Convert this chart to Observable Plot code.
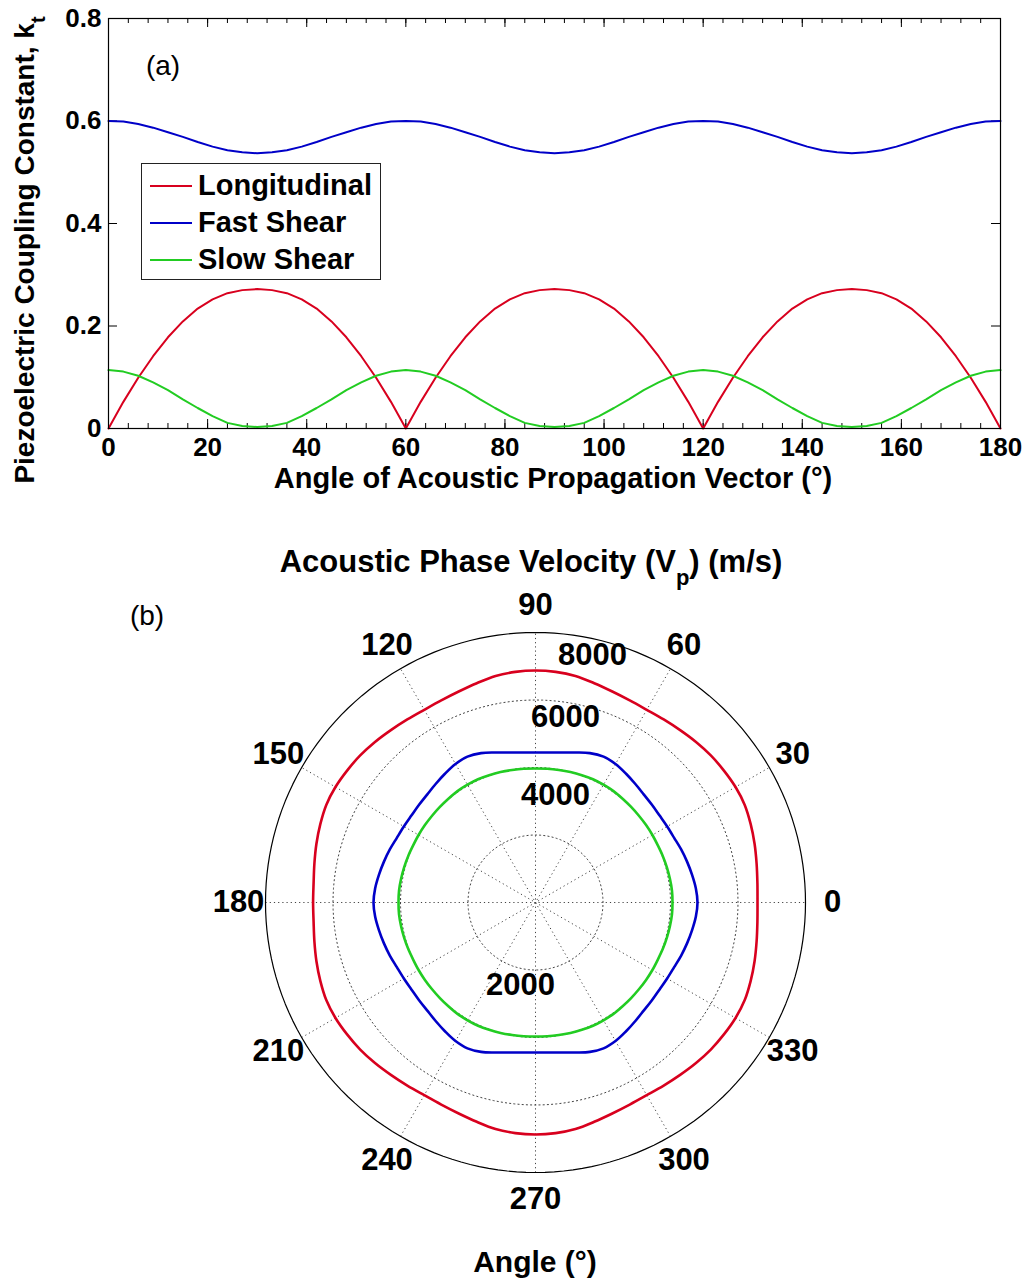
<!DOCTYPE html>
<html><head><meta charset="utf-8">
<script src="https://cdn.jsdelivr.net/npm/d3@7"></script>
<script src="https://cdn.jsdelivr.net/npm/@observablehq/plot@0.6"></script>
<style>
body{margin:0;background:#fff;}
#wrap{position:relative;width:1032px;height:1282px;background:#fff;font-family:"Liberation Sans",Arial,Helvetica,sans-serif;}
#a{position:absolute;left:0;top:0;}
#b{position:absolute;left:0;top:500px;}
#legend{position:absolute;left:141px;top:163px;width:238px;height:115px;border:1.5px solid #222;background:#fff;}
.row{position:absolute;left:0;height:37px;display:flex;align-items:center;font-weight:bold;font-size:29px;color:#000;white-space:nowrap;}
.sw{display:inline-block;width:42px;height:2px;margin-left:8px;margin-right:6px;}
</style></head>
<body><div id="wrap"><div id="a"></div><div id="b"></div><div id="legend"></div></div>
<script>
const FONT = '"Liberation Sans", Arial, Helvetica, sans-serif';

// ---------- Panel (a) data ----------
const seriesNames = ["Longitudinal", "Fast Shear", "Slow Shear"];
const seriesColors = ["#d8001e", "#0000c8", "#22cc22"];
const angleA = d3.range(0, 181, 3); // 0..180 deg, every 3 deg
const longitudinal = [
  0, 0.052, 0.099, 0.141, 0.178, 0.209, 0.234, 0.252, 0.264, 0.270, 0.272, 0.270, 0.264, 0.252, 0.234, 0.209, 0.178, 0.141, 0.099, 0.052,
  0, 0.052, 0.099, 0.141, 0.178, 0.209, 0.234, 0.252, 0.264, 0.270, 0.272, 0.270, 0.264, 0.252, 0.234, 0.209, 0.178, 0.141, 0.099, 0.052,
  0, 0.052, 0.099, 0.141, 0.178, 0.209, 0.234, 0.252, 0.264, 0.270, 0.272, 0.270, 0.264, 0.252, 0.234, 0.209, 0.178, 0.141, 0.099, 0.052, 0
];
const fastShear = [
  0.600, 0.599, 0.594, 0.587, 0.578, 0.569, 0.559, 0.550, 0.543, 0.539, 0.537, 0.539, 0.543, 0.550, 0.559, 0.569, 0.578, 0.587, 0.594, 0.599,
  0.600, 0.599, 0.594, 0.587, 0.578, 0.569, 0.559, 0.550, 0.543, 0.539, 0.537, 0.539, 0.543, 0.550, 0.559, 0.569, 0.578, 0.587, 0.594, 0.599,
  0.600, 0.599, 0.594, 0.587, 0.578, 0.569, 0.559, 0.550, 0.543, 0.539, 0.537, 0.539, 0.543, 0.550, 0.559, 0.569, 0.578, 0.587, 0.594, 0.599, 0.600
];
const slowShear = [
  0.114, 0.111, 0.103, 0.090, 0.075, 0.057, 0.040, 0.024, 0.011, 0.005, 0.003, 0.005, 0.011, 0.024, 0.040, 0.057, 0.075, 0.090, 0.103, 0.111,
  0.114, 0.111, 0.103, 0.090, 0.075, 0.057, 0.040, 0.024, 0.011, 0.005, 0.003, 0.005, 0.011, 0.024, 0.040, 0.057, 0.075, 0.090, 0.103, 0.111,
  0.114, 0.111, 0.103, 0.090, 0.075, 0.057, 0.040, 0.024, 0.011, 0.005, 0.003, 0.005, 0.011, 0.024, 0.040, 0.057, 0.075, 0.090, 0.103, 0.111, 0.114
];
const xTicksA = [0, 20, 40, 60, 80, 100, 120, 140, 160, 180];
const xMinorA = d3.range(0, 181, 4);
const yTicksA = [0, 0.2, 0.4, 0.6, 0.8];

// ---------- Panel (b) data ----------
const polarAngles = d3.range(0, 360, 5); // 0..355 deg
const vLong = [
  6578, 6600, 6652, 6720, 6785, 6840, 6844, 6815, 6780, 6726, 6667, 6622, 6593, 6607, 6652, 6726, 6815, 6859, 6874,
  6859, 6815, 6726, 6652, 6607, 6593, 6622, 6667, 6726, 6780, 6815, 6844, 6840, 6785, 6720, 6652, 6600, 6590,
  6600, 6652, 6720, 6785, 6840, 6844, 6815, 6780, 6726, 6667, 6622, 6593, 6607, 6652, 6726, 6815, 6859, 6874,
  6859, 6815, 6726, 6652, 6607, 6593, 6622, 6667, 6726, 6780, 6815, 6844, 6840, 6785, 6720, 6652, 6600
];
const vFast = [
  4800, 4770, 4711, 4652, 4593, 4533, 4504, 4489, 4504, 4533, 4593, 4667, 4741, 4770, 4711, 4601, 4513, 4462, 4444,
  4462, 4513, 4601, 4711, 4770, 4741, 4667, 4593, 4533, 4504, 4489, 4504, 4533, 4593, 4652, 4711, 4770, 4800,
  4770, 4711, 4652, 4593, 4533, 4504, 4489, 4504, 4533, 4593, 4667, 4741, 4770, 4711, 4601, 4513, 4462, 4444,
  4462, 4513, 4601, 4711, 4770, 4741, 4667, 4593, 4533, 4504, 4489, 4504, 4533, 4593, 4652, 4711, 4770
];
const vSlow = [
  4059, 4059, 4044, 4030, 4015, 4000, 4000, 4000, 4000, 4006, 4015, 4030, 4030, 4030, 4015, 4000, 3985, 3976, 3970,
  3976, 3985, 4000, 4015, 4030, 4030, 4030, 4015, 4006, 4000, 4000, 4000, 4000, 4015, 4030, 4044, 4059, 4059,
  4059, 4044, 4030, 4015, 4000, 4000, 4000, 4000, 4006, 4015, 4030, 4030, 4030, 4015, 4000, 3985, 3976, 3970,
  3976, 3985, 4000, 4015, 4030, 4030, 4030, 4015, 4006, 4000, 4000, 4000, 4000, 4015, 4030, 4044, 4059
];
const ringValues = [2000, 4000, 6000, 8000];
const rMax = 8000;
const angleTicksB = [0, 30, 60, 90, 120, 150, 180, 210, 240, 270, 300, 330];
const angleLabelRadius = 8800;
const radialLabelText = ["8000", "6000", "4000", "2000"];
const radialLabelR = [7511, 5553, 3225, 2499];
const radialLabelAngle = [77, 80.8, 79.4, 259.8];

const rad = d => d * Math.PI / 180;

// ---------- Build panel (a) ----------
const rowsA = [];
angleA.forEach((a, i) => {
  rowsA.push({a, k: longitudinal[i], s: seriesNames[0]});
  rowsA.push({a, k: fastShear[i], s: seriesNames[1]});
  rowsA.push({a, k: slowShear[i], s: seriesNames[2]});
});
const HA = 500, mt = 18, mb = 72, ml = 108, mr = 32;
const fh = HA - mt - mb, fw = 1032 - ml - mr;
const majorLen = 9, minorLen = 5;
const plotA = Plot.plot({
  width: 1032, height: HA, marginLeft: ml, marginRight: mr, marginTop: mt, marginBottom: mb,
  x: {domain: [0, 180]},
  y: {domain: [0, 0.8]},
  color: {domain: seriesNames, range: seriesColors},
  style: {fontFamily: FONT, fontSize: "26px", fontWeight: "bold", color: "#000", background: "#fff", overflow: "visible"},
  marks: [
    Plot.axisX({ticks: xTicksA, tickSize: 0, tickPadding: 9, tickFormat: d => String(d), label: null}),
    Plot.axisY({ticks: yTicksA, tickSize: 0, tickPadding: 7, tickFormat: d => String(d), label: null}),
    // inward tick marks on all four sides
    Plot.tickX(xMinorA, {x: d => d, insetTop: fh - minorLen, stroke: "#000", strokeWidth: 1}),
    Plot.tickX(xMinorA, {x: d => d, insetBottom: fh - minorLen, stroke: "#000", strokeWidth: 1}),
    Plot.tickX(xTicksA, {x: d => d, insetTop: fh - majorLen, stroke: "#000", strokeWidth: 1}),
    Plot.tickX(xTicksA, {x: d => d, insetBottom: fh - majorLen, stroke: "#000", strokeWidth: 1}),
    Plot.tickY(yTicksA, {y: d => d, insetRight: fw - majorLen, stroke: "#000", strokeWidth: 1}),
    Plot.tickY(yTicksA, {y: d => d, insetLeft: fw - majorLen, stroke: "#000", strokeWidth: 1}),
    Plot.line(rowsA, {x: "a", y: "k", z: "s", stroke: "s", strokeWidth: 2}),
    Plot.frame({stroke: "#000", strokeWidth: 1.2})
  ]
});
document.getElementById("a").appendChild(plotA);

// ---------- Build panel (b) ----------
const rowsB = [];
polarAngles.forEach((t, i) => {
  rowsB.push({s: seriesNames[0], x: vLong[i] * Math.cos(rad(t)), y: vLong[i] * Math.sin(rad(t))});
  rowsB.push({s: seriesNames[1], x: vFast[i] * Math.cos(rad(t)), y: vFast[i] * Math.sin(rad(t))});
  rowsB.push({s: seriesNames[2], x: vSlow[i] * Math.cos(rad(t)), y: vSlow[i] * Math.sin(rad(t))});
});
const ringPts = [];
ringValues.forEach(r => {
  for (let t = 0; t <= 360; t += 2) ringPts.push({r, x: r * Math.cos(rad(t)), y: r * Math.sin(rad(t))});
});
const spokes = angleTicksB.filter(a => a < 180);
const radialLabels = radialLabelText.map((t, i) => ({t, x: radialLabelR[i] * Math.cos(rad(radialLabelAngle[i])), y: radialLabelR[i] * Math.sin(rad(radialLabelAngle[i]))}));

const plotB = Plot.plot({
  width: 1032, height: 782, marginLeft: 265, marginRight: 227, marginTop: 132, marginBottom: 110,
  x: {domain: [-rMax, rMax], axis: null},
  y: {domain: [-rMax, rMax], axis: null},
  color: {domain: seriesNames, range: seriesColors},
  style: {fontFamily: FONT, fontWeight: "bold", color: "#000", background: "#fff", overflow: "visible"},
  marks: [
    Plot.line(ringPts.filter(d => d.r < rMax), {x: "x", y: "y", z: "r", stroke: "#444", strokeWidth: 1, strokeDasharray: "1.2,3"}),
    Plot.link(spokes, {x1: d => -rMax * Math.cos(rad(d)), y1: d => -rMax * Math.sin(rad(d)), x2: d => rMax * Math.cos(rad(d)), y2: d => rMax * Math.sin(rad(d)), stroke: "#444", strokeWidth: 1, strokeDasharray: "1.2,3"}),
    Plot.line(ringPts.filter(d => d.r === rMax), {x: "x", y: "y", stroke: "#000", strokeWidth: 1.2}),
    Plot.line(rowsB, {x: "x", y: "y", z: "s", stroke: "s", strokeWidth: 2.6, curve: "catmull-rom-closed"}),
    Plot.text(angleTicksB, {x: d => angleLabelRadius * Math.cos(rad(d)), y: d => angleLabelRadius * Math.sin(rad(d)), text: d => String(d), fontSize: 31, fontWeight: "bold", fill: "#000"}),
    Plot.text(radialLabels, {x: "x", y: "y", text: "t", fontSize: 31, fontWeight: "bold", fill: "#000"})
  ]
});
document.getElementById("b").appendChild(plotB);

// ---------- titles / annotations ----------
const svgA = d3.select(plotA);
const yt = svgA.append("text").attr("transform", "translate(34,250) rotate(-90)")
  .attr("text-anchor", "middle").attr("font-size", 28).attr("font-weight", "bold").attr("fill", "#000");
yt.append("tspan").text("Piezoelectric Coupling Constant, k");
yt.append("tspan").attr("baseline-shift", "sub").attr("font-size", 20).text("t");
svgA.append("text").attr("x", 553).attr("y", 488).attr("text-anchor", "middle")
  .attr("font-size", 29).attr("font-weight", "bold").attr("fill", "#000")
  .text("Angle of Acoustic Propagation Vector (°)");
svgA.append("text").attr("x", 163).attr("y", 75).attr("text-anchor", "middle")
  .attr("font-size", 28).attr("font-weight", "normal").attr("fill", "#000").text("(a)");

const svgB = d3.select(plotB);
const tb = svgB.append("text").attr("x", 531).attr("y", 72).attr("text-anchor", "middle")
  .attr("font-size", 31).attr("font-weight", "bold").attr("fill", "#000");
tb.append("tspan").text("Acoustic Phase Velocity (V");
tb.append("tspan").attr("baseline-shift", "sub").attr("font-size", 22).text("p");
tb.append("tspan").attr("baseline-shift", "0").text(") (m/s)");
svgB.append("text").attr("x", 535).attr("y", 772).attr("text-anchor", "middle")
  .attr("font-size", 30).attr("font-weight", "bold").attr("fill", "#000").text("Angle (°)");
svgB.append("text").attr("x", 147).attr("y", 125).attr("text-anchor", "middle")
  .attr("font-size", 28).attr("font-weight", "normal").attr("fill", "#000").text("(b)");

// ---------- legend ----------
const leg = document.getElementById("legend");
seriesNames.forEach((n, i) => {
  const r = document.createElement("div");
  r.className = "row";
  r.style.top = (3 + i * 37) + "px";
  r.innerHTML = `<span class="sw" style="background:${seriesColors[i]}"></span>${n}`;
  leg.appendChild(r);
});
</script>
</body></html>
